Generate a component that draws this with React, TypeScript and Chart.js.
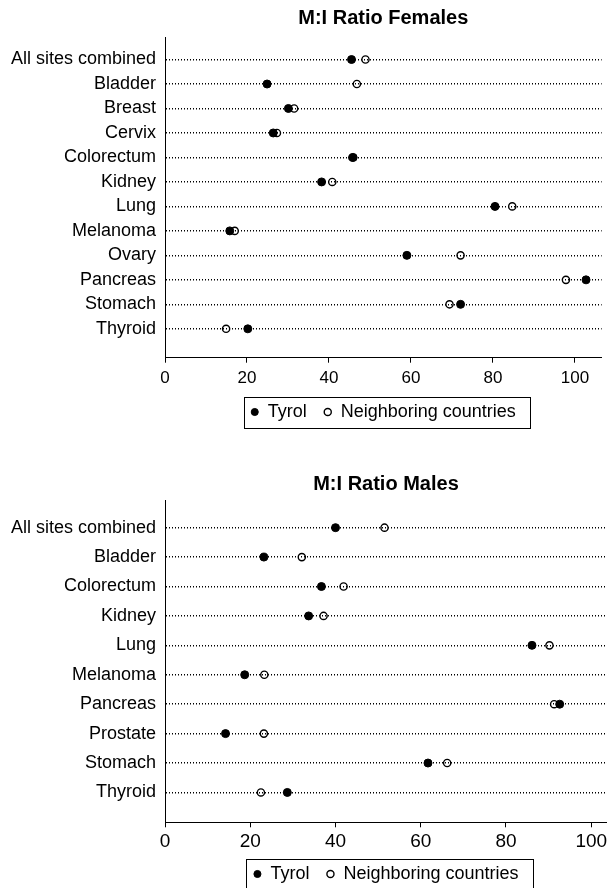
import React, { useEffect, useRef } from 'react';
import { Chart, registerables } from 'chart.js';

Chart.register(...registerables);
Chart.defaults.font.family = "'Liberation Sans', Arial, Helvetica, sans-serif";
Chart.defaults.color = '#000';

// ---- data ----
const seriesNames = ['Tyrol', 'Neighboring countries'];
const titles = ['M:I Ratio Females', 'M:I Ratio Males'];
const xTicks = [0, 20, 40, 60, 80, 100];

const femaleSites = ['All sites combined', 'Bladder', 'Breast', 'Cervix', 'Colorectum', 'Kidney', 'Lung', 'Melanoma', 'Ovary', 'Pancreas', 'Stomach', 'Thyroid'];
const femaleTyrol = [45.5, 24.9, 30.1, 26.4, 45.9, 38.2, 80.5, 15.8, 59.0, 102.7, 72.1, 20.2];
const femaleNeighbor = [48.9, 46.8, 31.5, 27.3, 45.7, 40.8, 84.7, 17.0, 72.1, 97.8, 69.4, 14.9];

const maleSites = ['All sites combined', 'Bladder', 'Colorectum', 'Kidney', 'Lung', 'Melanoma', 'Pancreas', 'Prostate', 'Stomach', 'Thyroid'];
const maleTyrol = [40.0, 23.2, 36.7, 33.7, 86.1, 18.7, 92.6, 14.2, 61.7, 28.7];
const maleNeighbor = [51.5, 32.1, 41.9, 37.2, 90.2, 23.3, 91.3, 23.2, 66.2, 22.5];

const legendFrame = {
  id: 'legendFrame',
  afterDraw(chart: any) {
    const lg = chart.legend;
    if (!lg || !lg.legendHitBoxes || !lg.legendHitBoxes.length) return;
    const hb = lg.legendHitBoxes;
    const first = hb[0];
    const last = hb[hb.length - 1];
    const left = Math.round(first.left - 7) + 0.5;
    const right = Math.round(last.left + last.width + 14) + 0.5;
    const top = Math.round(first.top - 6) + 0.5;
    const bottom = Math.round(first.top + first.height + 7) + 0.5;
    const ctx = chart.ctx;
    ctx.save();
    ctx.strokeStyle = '#000';
    ctx.lineWidth = 1;
    ctx.strokeRect(left, top, right - left, bottom - top);
    ctx.restore();
  },
};

type Params = {
  labels: string[];
  tyrol: number[];
  neighbor: number[];
  title: string;
  xMax: number;
  yMin: number;
  yMax: number;
  titlePad: { top: number; bottom: number };
  xAxisHeight: number;
  tickFont: number;
  tickPad: number;
  padRight: number;
};

function makeConfig(p: Params): any {
  return {
    type: 'scatter',
    data: {
      datasets: [
        {
          label: seriesNames[0],
          data: p.tyrol.map((v, i) => ({ x: v, y: i })),
          backgroundColor: '#000',
          borderColor: '#000',
          borderWidth: 1,
          pointRadius: 4,
          pointStyle: 'circle',
        },
        {
          label: seriesNames[1],
          data: p.neighbor.map((v, i) => ({ x: v, y: i })),
          backgroundColor: 'rgba(0,0,0,0)',
          borderColor: '#000',
          borderWidth: 1.4,
          pointRadius: 3.6,
          pointStyle: 'circle',
        },
      ],
    },
    options: {
      responsive: false,
      animation: false,
      devicePixelRatio: 1,
      events: [],
      layout: { padding: { left: 0, right: p.padRight, top: 0, bottom: 0 } },
      scales: {
        x: {
          type: 'linear',
          min: 0,
          max: p.xMax,
          afterBuildTicks: (s: any) => {
            s.ticks = xTicks.map((v) => ({ value: v }));
          },
          afterFit: (s: any) => {
            s.height = p.xAxisHeight;
          },
          ticks: { font: { size: p.tickFont }, color: '#000', padding: p.tickPad, maxRotation: 0, autoSkip: false, includeBounds: false },
          grid: { display: true, drawOnChartArea: false, drawTicks: true, tickLength: 5, tickColor: '#000', tickWidth: 1, color: '#000' },
          border: { display: true, color: '#000', width: 1 },
        },
        y: {
          type: 'linear',
          reverse: true,
          min: p.yMin,
          max: p.yMax,
          afterBuildTicks: (s: any) => {
            s.ticks = p.labels.map((_, i) => ({ value: i }));
          },
          afterFit: (s: any) => {
            s.width = 165;
          },
          ticks: {
            callback: (v: any) => p.labels[v],
            font: { size: 18 },
            color: '#000',
            padding: 9,
            autoSkip: false,
          },
          grid: { display: true, drawOnChartArea: true, drawTicks: false, color: '#000', lineWidth: 1.5 },
          border: { display: true, color: '#000', width: 1, dash: [1, 2] },
        },
      },
      plugins: {
        title: {
          display: true,
          text: p.title,
          fullSize: false,
          font: { size: 20, weight: 'bold' },
          color: '#000',
          padding: p.titlePad,
        },
        legend: {
          display: true,
          position: 'bottom',
          fullSize: false,
          labels: {
            usePointStyle: true,
            boxWidth: 8,
            boxHeight: 5,
            padding: 17,
            font: { size: 18 },
            color: '#000',
          },
        },
        tooltip: { enabled: false },
      },
    },
    plugins: [legendFrame],
  };
}

export default function App() {
  const topRef = useRef<HTMLCanvasElement>(null);
  const botRef = useRef<HTMLCanvasElement>(null);

  useEffect(() => {
    const c1 = new Chart(
      topRef.current as HTMLCanvasElement,
      makeConfig({
        labels: femaleSites,
        tyrol: femaleTyrol,
        neighbor: femaleNeighbor,
        title: titles[0],
        xMax: 106.5,
        yMin: -0.92,
        yMax: 12.18,
        titlePad: { top: 6, bottom: 7 },
        xAxisHeight: 28.3,
        tickFont: 17,
        tickPad: 5,
        padRight: 0,
      })
    );
    const c2 = new Chart(
      botRef.current as HTMLCanvasElement,
      makeConfig({
        labels: maleSites,
        tyrol: maleTyrol,
        neighbor: maleNeighbor,
        title: titles[1],
        xMax: 103.7,
        yMin: -0.92,
        yMax: 10.015,
        titlePad: { top: 41, bottom: 4.6 },
        xAxisHeight: 25.7,
        tickFont: 19,
        tickPad: 3,
        padRight: 13,
      })
    );
    return () => {
      c1.destroy();
      c2.destroy();
    };
  }, []);

  return (
    <div style={{ position: 'absolute', left: 0, top: 0, width: 607, height: 888, overflow: 'hidden', background: '#fff' }}>
      <canvas ref={topRef} width={607} height={431} style={{ position: 'absolute', left: 0, top: 0, width: 607, height: 431 }} />
      <canvas ref={botRef} width={620} height={462} style={{ position: 'absolute', left: 0, top: 431, width: 620, height: 462 }} />
    </div>
  );
}
